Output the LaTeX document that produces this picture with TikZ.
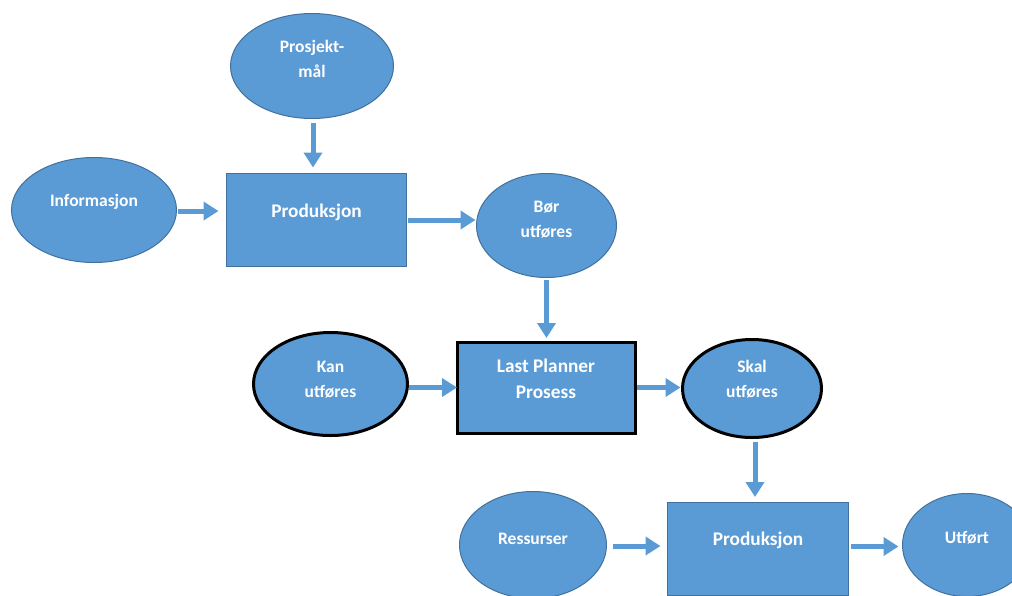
\documentclass[tikz,border=0pt]{standalone}
\usepackage{fontspec}
\setmainfont{Carlito}
\usetikzlibrary{arrows.meta,shapes.geometric,calc}
\definecolor{boxblue}{HTML}{5B9BD5}
\definecolor{edgeblue}{HTML}{41719C}
\begin{document}
\begin{tikzpicture}[x=1pt,y=-1pt,
  shapebase/.style={fill=boxblue, draw=edgeblue, line width=1pt, inner sep=0pt, outer sep=0pt},
  oval/.style={shapebase, ellipse},
  box/.style={shapebase, rectangle},
  heavy/.style={draw=black, line width=3pt},
  otext/.style={text=white, font=\bfseries\fontsize{17.5}{25}\selectfont, align=center},
  btext/.style={text=white, font=\bfseries\fontsize{19.3}{26}\selectfont, align=center},
  flow/.style={draw=boxblue, line width=5pt, -{Triangle[length=15pt,width=18pt]}},
]
\fill[white] (0,0) rectangle (1012,595);
\useasboundingbox (0,0) rectangle (1012,595);

% upper row
\node[oval, minimum width=163, minimum height=105,
      label={[otext,yshift=7]center:Prosjekt-\\mål}] (goal) at (312,66) {};
\node[oval, minimum width=165, minimum height=105,
      label={[otext,yshift=8]center:Informasjon}] (info) at (94,210) {};
\node[box, minimum width=180, minimum height=93,
      label={[btext,yshift=8]center:Produksjon}] (prodA) at (316.5,220) {};
\node[oval, minimum width=140, minimum height=104,
      label={[otext,yshift=6]center:Bør\\utføres}] (should) at (546.5,225.5) {};

% planning row
\node[oval, heavy, minimum width=154, minimum height=103,
      label={[otext,yshift=4]center:Kan\\utføres}] (can) at (330.5,384) {};
\node[box, heavy, minimum width=178, minimum height=91,
      label={[btext,yshift=8.5]center:Last Planner\\Prosess}] (lpp) at (546,387.5) {};
\node[oval, heavy, minimum width=139, minimum height=98,
      label={[otext,yshift=9.5]center:Skal\\utføres}] (will) at (752,388.5) {};

% execution row
\node[oval, minimum width=147, minimum height=107,
      label={[otext,yshift=6]center:Ressurser}] (res) at (533,545) {};
\node[box, minimum width=181, minimum height=93,
      label={[btext,yshift=8]center:Produksjon}] (prodB) at (758,548.5) {};
\node[oval, minimum width=129, minimum height=103,
      label={[otext,yshift=7]center:Utført}] (done) at (967,545) {};

% connectors
\draw[flow, shorten <=4pt, shorten >=6pt] ([xshift=1pt]goal.south) -- ([xshift=1pt]goal.south |- prodA.north);
\draw[flow, shorten <=1pt, shorten >=8pt] ([yshift=-1pt]info.east) -- ([yshift=-1pt]info.east -| prodA.west);
\draw[flow, shorten <=1pt, shorten >=1pt] (prodA.east) -- (prodA.east -| should.west);
\draw[flow, shorten <=2pt, shorten >=4pt] (should.south) -- (should.south |- lpp.north);
\draw[flow, shorten <=1pt, shorten >=0pt] (lpp.west -| can.east) -- (lpp.west);
\draw[flow, shorten <=2pt, shorten >=2pt] (lpp.east) -- (lpp.east -| will.west);
\draw[flow, shorten <=4pt, shorten >=5pt] ([xshift=3pt]will.south) -- ([xshift=3pt]will.south |- prodB.north);
\draw[flow, shorten <=6pt, shorten >=7pt] ([yshift=-1pt]res.east) -- ([yshift=-1pt]res.east -| prodB.west);
\draw[flow, shorten <=2pt, shorten >=4pt] ([yshift=2pt]prodB.east) -- ([yshift=2pt]prodB.east -| done.west);
\end{tikzpicture}
\end{document}
